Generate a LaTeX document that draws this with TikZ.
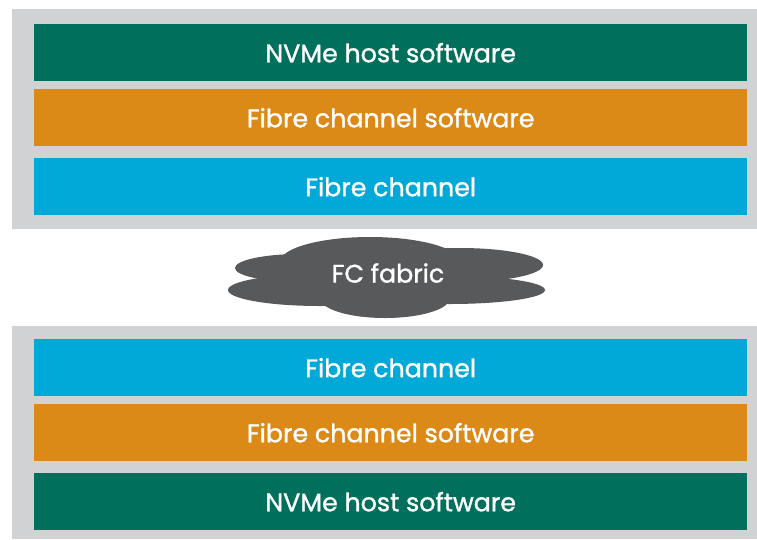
\documentclass[tikz,border=0pt]{standalone}
\usepackage{fontspec}
\setmainfont{Poppins}[FakeBold=1.2]
\definecolor{panelgray}{HTML}{D1D2D4}
\definecolor{nvgreen}{HTML}{006F5B}
\definecolor{fcorange}{HTML}{DC8A17}
\definecolor{fcblue}{HTML}{00A9D8}
\definecolor{cloudgray}{HTML}{58595B}
\begin{document}
\begin{tikzpicture}[x=1pt,y=-1pt,
  panel/.style={fill=panelgray,draw=none},
  bar/.style={draw=none,minimum width=713pt,minimum height=57pt,inner sep=0pt,
    text=white,font=\fontsize{25.3}{28}\selectfont,anchor=north west},
  lobe/.style={fill=cloudgray,draw=none}]
\useasboundingbox (0,0) rectangle (757,539);
\fill[white] (0,0) rectangle (757,539);
% top panel
\path[panel] (12,9) rectangle (757,229);
\node[bar,fill=nvgreen] (tnvme) at (34,24) {NVMe host software};
\node[bar,fill=fcorange] (tfcsw) at (34,89) {Fibre channel software};
\node[bar,fill=fcblue] (tfc) at (34,158) {Fibre channel};
% cloud
\fill[lobe] (370,262) ellipse [x radius=90, y radius=25];
\fill[lobe] (300,268) ellipse [x radius=65, y radius=14];
\fill[lobe] (320,290) ellipse [x radius=92, y radius=16];
\fill[lobe] (460,265) ellipse [x radius=83, y radius=17];
\fill[lobe] (450,290) ellipse [x radius=95, y radius=14];
\fill[lobe] (385,298) ellipse [x radius=65, y radius=20];
\node[text=white,font=\fontsize{25.3}{28}\selectfont] (fabric) at (388,273) {FC fabric};
% bottom panel
\path[panel] (12,326) rectangle (757,539);
\node[bar,fill=fcblue] (bfc) at (34,339) {Fibre channel};
\node[bar,fill=fcorange] (bfcsw) at (34,404) {Fibre channel software};
\node[bar,fill=nvgreen] (bnvme) at (34,473) {NVMe host software};
\end{tikzpicture}
\end{document}
